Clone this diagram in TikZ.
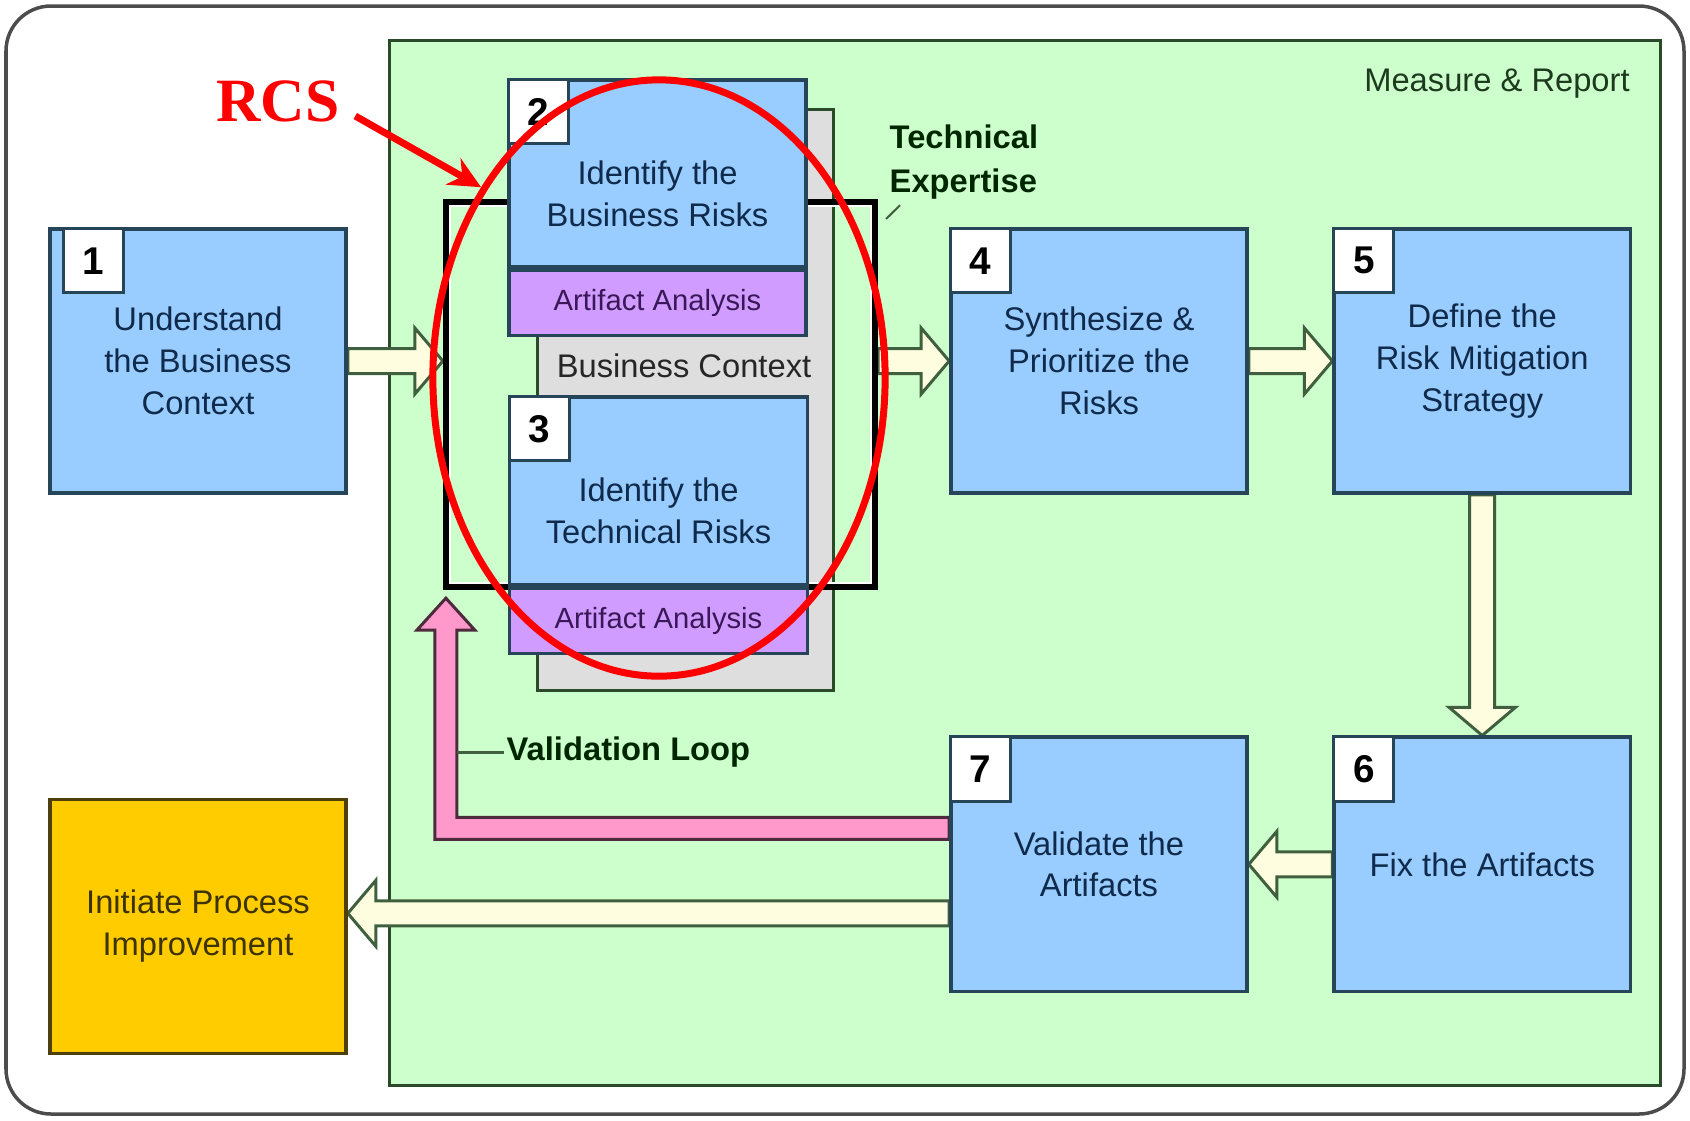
\documentclass[tikz,border=0pt]{standalone}
\usepackage{fontspec}
\setmainfont{Liberation Sans}
\newfontfamily\rcsfont{Liberation Serif}
\usepackage{tikz}
\usetikzlibrary{positioning,calc,shapes.geometric,arrows.meta}

\definecolor{panelgreen}{HTML}{CCFFCC}
\definecolor{paneledge}{HTML}{2A4A2A}
\definecolor{taskblue}{HTML}{99CCFF}
\definecolor{taskedge}{HTML}{264559}
\definecolor{tasktext}{HTML}{0F2A4A}
\definecolor{artpurple}{HTML}{D09CFF}
\definecolor{arttext}{HTML}{3A1858}
\definecolor{ctxgray}{HTML}{DEDEDE}
\definecolor{flowfill}{HTML}{FFFDE0}
\definecolor{flowedge}{HTML}{3F5F3F}
\definecolor{looppink}{HTML}{FF99CC}
\definecolor{loopedge}{HTML}{4D2B3D}
\definecolor{improveyellow}{HTML}{FFCC00}
\definecolor{improveedge}{HTML}{4F3F0A}
\definecolor{improvetext}{HTML}{3D3300}
\definecolor{labelgreen}{HTML}{1E3A1E}

\newcommand{\taskfont}{\fontsize{9.3}{11.9}\selectfont}

\pgfdeclarelayer{backdrop}
\pgfdeclarelayer{flow}
\pgfsetlayers{backdrop,flow,main}

% hollow block arrow from #1 to tip #2
\newcommand{\blockarrow}[2]{%
  \coordinate (neck) at ($(#2)!0.28cm!(#1)$);
  \draw[flowarrow] ($(#1)!0.125cm!90:(#2)$) -- ($(neck)!0.125cm!90:(#2)$)
    -- ($(neck)!0.33cm!90:(#2)$) -- (#2) -- ($(neck)!0.33cm!-90:(#2)$)
    -- ($(neck)!0.125cm!-90:(#2)$) -- ($(#1)!0.125cm!-90:(#2)$) -- cycle;
}

\begin{document}
\begin{tikzpicture}[x=0.01cm,y=-0.01cm,on grid,
    taskbox/.style={draw=taskedge,line width=0.035cm,fill=taskblue,
      minimum width=2.96cm,minimum height=2.64cm,inner sep=0pt,
      align=center,text=tasktext,font=\taskfont},
    numbox/.style={draw=taskedge,line width=0.03cm,fill=white,anchor=north west,
      minimum width=0.6cm,minimum height=0.64cm,inner sep=0pt,
      font=\fontsize{11}{11}\selectfont\bfseries},
    artbox/.style={draw=taskedge,line width=0.035cm,fill=artpurple,anchor=north,
      minimum width=2.97cm,minimum height=0.65cm,inner sep=0pt,
      text=arttext,font=\fontsize{8.3}{10}\selectfont},
    boxtext/.style={align=center,text=tasktext,font=\taskfont,inner sep=0pt},
    notelabel/.style={text=labelgreen,inner sep=0pt,font=\fontsize{9.3}{12.6}\selectfont\bfseries},
    leader/.style={draw=flowedge,line width=0.03cm},
    flowarrow/.style={draw=flowedge,fill=flowfill,line width=0.03cm,line join=miter},
    looparrow/.style={draw=loopedge,fill=looppink,line width=0.03cm},
    rcsring/.style={ellipse,draw=red,line width=0.07cm,minimum width=4.52cm,
      minimum height=5.96cm,inner sep=0pt},
    rcsarrow/.style={draw=red,line width=0.07cm,-{Stealth[length=0.32cm,width=0.3cm]}}]

\useasboundingbox (0,0) rectangle (1690,1120);

\begin{pgfonlayer}{backdrop}
  \draw[gray!60!black,line width=0.035cm,rounded corners=0.45cm] (6,6) rectangle (1684,1114);
  \node[draw=paneledge,line width=0.03cm,fill=panelgreen,minimum width=12.7cm,
    minimum height=10.44cm] (panel) at (1025,563) {};
  \node[draw=paneledge,line width=0.03cm,fill=ctxgray,minimum width=2.95cm,
    minimum height=5.8cm] (ctx) at (685.5,400) {};
\end{pgfonlayer}

\node[text=labelgreen,font=\taskfont,inner sep=0pt] (measure) at (1497,84) {Measure \& Report};
\node[text=black!85,font=\taskfont,inner sep=0pt] (ctxlabel) at (684,366) {Business Context};

% technical expertise frame
\node[draw=black,line width=0.08cm,minimum width=4.27cm,minimum height=3.83cm] (frame) at (660.5,394.5) {};
\draw[white,line width=0.025cm] ($(frame.north west)+(7,7)$) rectangle ($(frame.south east)+(-7,-7)$);

\node[taskbox] (b1) at (198,361) {Understand\\the Business\\Context};
\node[numbox] (n1) at ([xshift=0.14cm]b1.north west) {1};

\node[taskbox,minimum width=2.97cm,minimum height=1.87cm] (b2) at (657.5,173.5) {};
\node[numbox] (n2) at (b2.north west) {2};
\node[boxtext] (b2text) at ([yshift=-0.2cm]b2.center) {Identify the\\Business Risks};
\node[artbox] (a2) at (b2.south) {Artifact Analysis};

\node[taskbox,minimum width=2.98cm,minimum height=1.88cm] (b3) at (658.5,491) {};
\node[numbox] (n3) at (b3.north west) {3};
\node[boxtext] (b3text) at ([yshift=-0.2cm]b3.center) {Identify the\\Technical Risks};
\node[artbox,minimum width=2.98cm] (a3) at (b3.south) {Artifact Analysis};

\node[taskbox] (b4) at (1099,361) {Synthesize \&\\Prioritize the\\Risks};
\node[numbox] (n4) at (b4.north west) {4};
\node[taskbox] (b5) [right=3.83cm of b4] {Define the\\Risk Mitigation\\Strategy};
\node[numbox] (n5) at (b5.north west) {5};
\node[taskbox,minimum height=2.54cm] (b7) [below=5.03cm of b4] {Validate the\\Artifacts};
\node[numbox] (n7) at (b7.north west) {7};
\node[taskbox,minimum height=2.54cm] (b6) [below=5.03cm of b5] {Fix the Artifacts};
\node[numbox] (n6) at (b6.north west) {6};

\node[taskbox,minimum height=2.54cm,fill=improveyellow,draw=improveedge,
  text=improvetext] (ipi) [below=5.65cm of b1] {Initiate Process\\Improvement};

\node[notelabel,anchor=north west,align=left,text=black!85!green] (techexp) at (889,124) {Technical\\Expertise};
\draw[leader,line width=0.02cm] ([xshift=0.08cm,yshift=-0.2cm]frame.north east) -- ([xshift=0.11cm,yshift=-0.05cm]techexp.south west);

% flow between the steps
\coordinate (loopstart) at ([yshift=0.36cm]b7.west);
\coordinate (looptip) at ([xshift=0.03cm,yshift=-0.08cm]frame.south west);
\coordinate (loopcorner) at (looptip |- loopstart);
\coordinate (loopedge) at ($(looptip)+(11,0)$);
\coordinate (in2) at (b1.east -| frame.west);
\coordinate (out3) at (b4.west -| frame.east);
\coordinate (out7) at ([yshift=-0.49cm]b7.west);
\coordinate (inipi) at (out7 -| ipi.east);

\begin{pgfonlayer}{flow}
  \blockarrow{b1.east}{in2}
  \blockarrow{out3}{b4.west}
  \blockarrow{b4.east}{b5.west}
  \blockarrow{b5.south}{b6.north}
  \blockarrow{b6.west}{b7.east}
  \blockarrow{out7}{inipi}
  \draw[looparrow] ($(loopstart)+(0,-11)$) -- ($(loopcorner)+(11,-11)$)
    -- ($(looptip)+(11,32)$) -- ($(looptip)+(29,32)$) -- (looptip)
    -- ($(looptip)+(-29,32)$) -- ($(looptip)+(-11,32)$)
    -- ($(loopcorner)+(-11,11)$) -- ($(loopstart)+(0,11)$) -- cycle;
\end{pgfonlayer}

\node[notelabel,anchor=west,text=black!85!green] (vloop) at (506,752) {Validation Loop};
\draw[leader] ([xshift=-0.02cm]vloop.west) -- (vloop.west -| loopedge);

% RCS marking
\node[rcsring] (ring) at (659,378) {};
\node[text=red,inner sep=0pt,font=\rcsfont\fontsize{17.5}{18}\selectfont\bfseries] (rcs) at (278,101) {RCS};
\draw[rcsarrow] ([xshift=0.15cm,yshift=-0.15cm]rcs.east) -- (ring.133);
\end{tikzpicture}
\end{document}
